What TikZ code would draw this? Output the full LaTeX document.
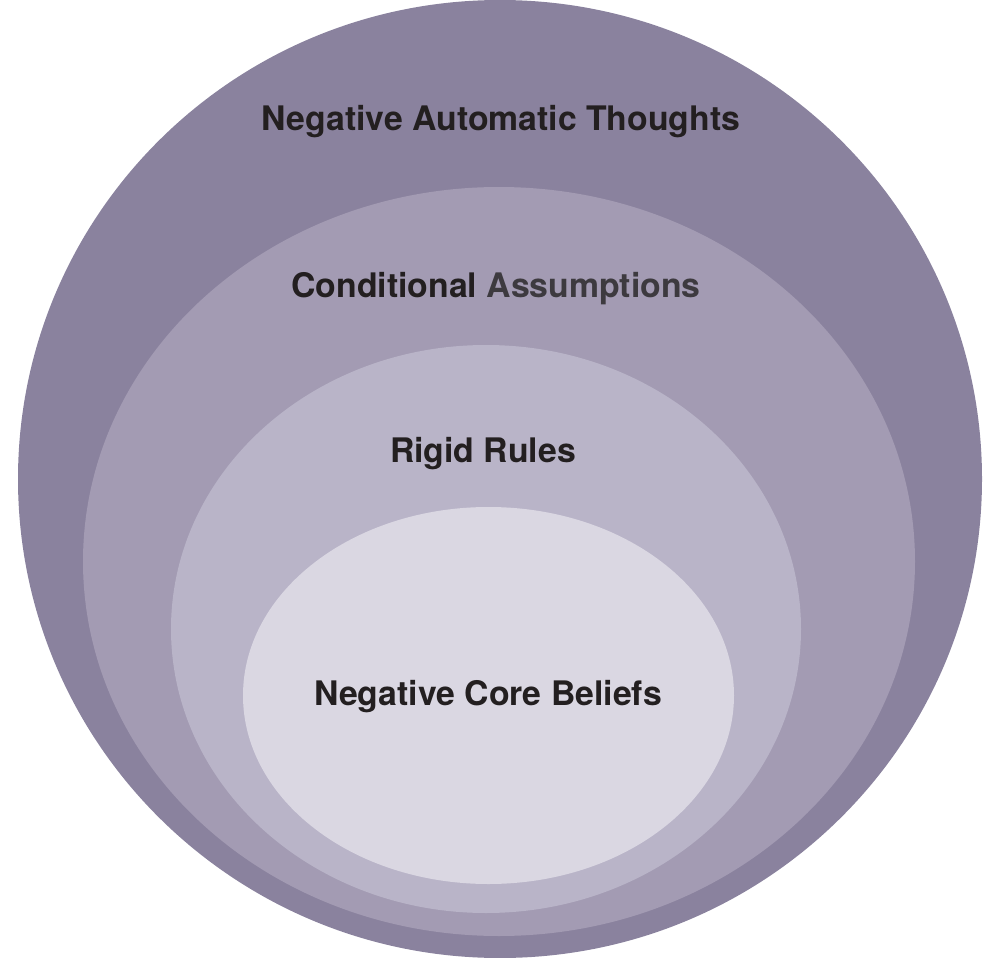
\documentclass[tikz,border=0pt]{standalone}
\usepackage{fontspec}
\setmainfont{TeX Gyre Heros}
\usepackage{xcolor}
\usepackage{tikz}
\usetikzlibrary{shapes.geometric,positioning}

\definecolor{ringA}{HTML}{8A829E}
\definecolor{ringB}{HTML}{A39BB3}
\definecolor{ringC}{HTML}{B9B4C8}
\definecolor{ringD}{HTML}{DAD7E2}
\definecolor{ink}{HTML}{231F20}
\definecolor{inkgray}{HTML}{3D3A3F}

\begin{document}
\begin{tikzpicture}[x=1pt, y=-1pt,
	ring/.style = {ellipse, inner sep=0pt, draw=none},
	lbl/.style = {anchor=base, inner sep=0pt, text=ink,
		font=\fontsize{33.8}{40}\selectfont\bfseries}
	]
	\useasboundingbox (0,0) rectangle (986,958);
	
	% nested layers, outermost first
	\node (nat) [ring, fill=ringA, minimum width=964pt, minimum height=958pt] at (500,479) {};
	\node (ca)  [ring, fill=ringB, minimum width=832pt, minimum height=749pt] at (499,561.5) {};
	\node (rr)  [ring, fill=ringC, minimum width=630pt, minimum height=568pt] at (486,629) {};
	\node (ncb) [ring, fill=ringD, minimum width=491pt, minimum height=377pt] at (488.5,695.5) {};
	
	% layer titles
	\node (natlbl) [lbl] at (501,131) {Negative Automatic Thoughts};
	\node (calbl)  [lbl] at (496,297) {Conditional \textcolor{inkgray}{Assumptions}};
	\node (rrlbl)  [lbl] at (483,462) {Rigid Rules};
	\node (ncblbl) [lbl] at (488,705) {Negative Core Beliefs};
\end{tikzpicture}
\end{document}
